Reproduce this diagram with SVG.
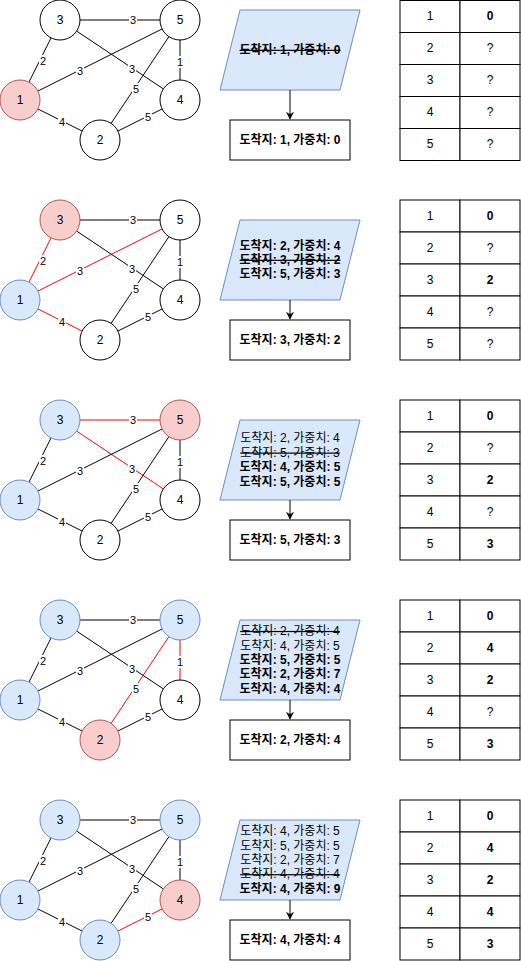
<svg xmlns="http://www.w3.org/2000/svg" width="521" height="961" viewBox="0 0 521 961">
<style>
text{font-family:"Liberation Sans","Noto Sans CJK KR",sans-serif;fill:#000;text-anchor:middle;dominant-baseline:central}
.nt{font-size:12px}
.lt{font-size:11px}
.tt{font-size:12px}
.pt{font-size:12px}
.b{font-weight:bold}
.s{text-decoration:line-through}
.n{fill:#fff;stroke:#000;stroke-width:1}
.red{fill:#f8cecc;stroke:#b85450;stroke-width:1}
.blue{fill:#dae8fc;stroke:#6c8ebf;stroke-width:1}
.e{stroke:#000;stroke-width:1;fill:none}
.er{stroke:#ff0000;stroke-width:1;fill:none}
.lb{fill:#fff}
.para{fill:#dae8fc;stroke:#6c8ebf;stroke-width:1}
.box{fill:#fff;stroke:#000;stroke-width:1}
.cell{fill:#fff;stroke:#000;stroke-width:1}
.arr{stroke:#000;stroke-width:1;fill:none}
</style>
<defs>
<marker id="ah" viewBox="0 0 10 10" refX="9" refY="5" markerWidth="8" markerHeight="8" markerUnits="userSpaceOnUse" orient="auto">
<path d="M0,0 L10,5 L0,10 L3,5 Z" fill="#000"/>
</marker>
</defs>

<!-- ============ PANEL 1 ============ -->
<g id="panel1">
<g id="p1-edges">
<line class="e" x1="60" y1="20" x2="180" y2="20"/>
<line class="e" x1="60" y1="20" x2="180" y2="100"/>
<line class="e" x1="20" y1="100" x2="60" y2="20"/>
<line class="e" x1="20" y1="100" x2="180" y2="20"/>
<line class="e" x1="180" y1="20" x2="180" y2="100"/>
<line class="e" x1="180" y1="20" x2="100" y2="140"/>
<line class="e" x1="20" y1="100" x2="100" y2="140"/>
<line class="e" x1="100" y1="140" x2="180" y2="100"/>
<rect class="lb" x="129" y="14" width="8" height="12"/><text class="lt" x="133" y="20">3</text>
<rect class="lb" x="128" y="63" width="8" height="12"/><text class="lt" x="132" y="69">3</text>
<rect class="lb" x="39" y="55" width="8" height="12"/><text class="lt" x="43" y="61">2</text>
<rect class="lb" x="76" y="65" width="8" height="12"/><text class="lt" x="80" y="71">3</text>
<rect class="lb" x="176" y="56" width="8" height="12"/><text class="lt" x="180" y="62">1</text>
<rect class="lb" x="132" y="83" width="8" height="12"/><text class="lt" x="136" y="89">5</text>
<rect class="lb" x="58" y="116" width="8" height="12"/><text class="lt" x="62" y="122">4</text>
<rect class="lb" x="144" y="111" width="8" height="12"/><text class="lt" x="148" y="117">5</text>
</g>
<g id="p1-n3"><circle class="n" cx="60" cy="20" r="20"/><text class="nt" x="60" y="20">3</text></g>
<g id="p1-n5"><circle class="n" cx="180" cy="20" r="20"/><text class="nt" x="180" y="20">5</text></g>
<g id="p1-n1"><circle class="red" cx="20" cy="100" r="20"/><text class="nt" x="20" y="100">1</text></g>
<g id="p1-n4"><circle class="n" cx="180" cy="100" r="20"/><text class="nt" x="180" y="100">4</text></g>
<g id="p1-n2"><circle class="n" cx="100" cy="140" r="20"/><text class="nt" x="100" y="140">2</text></g>
<g id="p1-queue"><polygon class="para" points="240,10 360,10 340,90 220,90"/>
<text class="pt b s" x="290" y="50">도착지: 1, 가중치: 0</text></g>
<g id="p1-arrow"><line class="arr" x1="290" y1="90" x2="290" y2="119" marker-end="url(#ah)"/></g>
<g id="p1-result"><rect class="box" x="230" y="120" width="120" height="40"/>
<text class="pt b" x="290" y="140">도착지: 1, 가중치: 0</text></g>
<g id="p1-table">
<rect class="cell" x="400" y="0.5" width="60" height="32"/><rect class="cell" x="460" y="0.5" width="60" height="32"/>
<rect class="cell" x="400" y="32.5" width="60" height="32"/><rect class="cell" x="460" y="32.5" width="60" height="32"/>
<rect class="cell" x="400" y="64.5" width="60" height="32"/><rect class="cell" x="460" y="64.5" width="60" height="32"/>
<rect class="cell" x="400" y="96.5" width="60" height="32"/><rect class="cell" x="460" y="96.5" width="60" height="32"/>
<rect class="cell" x="400" y="128.5" width="60" height="32"/><rect class="cell" x="460" y="128.5" width="60" height="32"/>
<text class="tt" x="430" y="16">1</text><text class="tt b" x="490" y="16">0</text>
<text class="tt" x="430" y="48">2</text><text class="tt" x="490" y="48">?</text>
<text class="tt" x="430" y="80">3</text><text class="tt" x="490" y="80">?</text>
<text class="tt" x="430" y="112">4</text><text class="tt" x="490" y="112">?</text>
<text class="tt" x="430" y="144">5</text><text class="tt" x="490" y="144">?</text>
</g>
</g>

<!-- ============ PANEL 2 ============ -->
<g id="panel2" transform="translate(0,200)">
<g id="p2-edges">
<line class="e" x1="60" y1="20" x2="180" y2="20"/>
<line class="e" x1="60" y1="20" x2="180" y2="100"/>
<line class="er" x1="20" y1="100" x2="60" y2="20"/>
<line class="er" x1="20" y1="100" x2="180" y2="20"/>
<line class="e" x1="180" y1="20" x2="180" y2="100"/>
<line class="e" x1="180" y1="20" x2="100" y2="140"/>
<line class="er" x1="20" y1="100" x2="100" y2="140"/>
<line class="e" x1="100" y1="140" x2="180" y2="100"/>
<rect class="lb" x="129" y="14" width="8" height="12"/><text class="lt" x="133" y="20">3</text>
<rect class="lb" x="128" y="63" width="8" height="12"/><text class="lt" x="132" y="69">3</text>
<rect class="lb" x="39" y="55" width="8" height="12"/><text class="lt" x="43" y="61">2</text>
<rect class="lb" x="76" y="65" width="8" height="12"/><text class="lt" x="80" y="71">3</text>
<rect class="lb" x="176" y="56" width="8" height="12"/><text class="lt" x="180" y="62">1</text>
<rect class="lb" x="132" y="83" width="8" height="12"/><text class="lt" x="136" y="89">5</text>
<rect class="lb" x="58" y="116" width="8" height="12"/><text class="lt" x="62" y="122">4</text>
<rect class="lb" x="144" y="111" width="8" height="12"/><text class="lt" x="148" y="117">5</text>
</g>
<g id="p2-n3"><circle class="red" cx="60" cy="20" r="20"/><text class="nt" x="60" y="20">3</text></g>
<g id="p2-n5"><circle class="n" cx="180" cy="20" r="20"/><text class="nt" x="180" y="20">5</text></g>
<g id="p2-n1"><circle class="blue" cx="20" cy="100" r="20"/><text class="nt" x="20" y="100">1</text></g>
<g id="p2-n4"><circle class="n" cx="180" cy="100" r="20"/><text class="nt" x="180" y="100">4</text></g>
<g id="p2-n2"><circle class="n" cx="100" cy="140" r="20"/><text class="nt" x="100" y="140">2</text></g>
<g id="p2-queue"><polygon class="para" points="240,20 360,20 340,100 220,100"/>
<text class="pt b" x="290" y="45.6">도착지: 2, 가중치: 4</text>
<text class="pt b s" x="290" y="60">도착지: 3, 가중치: 2</text>
<text class="pt b" x="290" y="74.4">도착지: 5, 가중치: 3</text></g>
<g id="p2-arrow"><line class="arr" x1="290" y1="100" x2="290" y2="119" marker-end="url(#ah)"/></g>
<g id="p2-result"><rect class="box" x="230" y="120" width="120" height="40"/>
<text class="pt b" x="290" y="140">도착지: 3, 가중치: 2</text></g>
<g id="p2-table">
<rect class="cell" x="400" y="0" width="60" height="32"/><rect class="cell" x="460" y="0" width="60" height="32"/>
<rect class="cell" x="400" y="32" width="60" height="32"/><rect class="cell" x="460" y="32" width="60" height="32"/>
<rect class="cell" x="400" y="64" width="60" height="32"/><rect class="cell" x="460" y="64" width="60" height="32"/>
<rect class="cell" x="400" y="96" width="60" height="32"/><rect class="cell" x="460" y="96" width="60" height="32"/>
<rect class="cell" x="400" y="128" width="60" height="32"/><rect class="cell" x="460" y="128" width="60" height="32"/>
<text class="tt" x="430" y="16">1</text><text class="tt b" x="490" y="16">0</text>
<text class="tt" x="430" y="48">2</text><text class="tt" x="490" y="48">?</text>
<text class="tt" x="430" y="80">3</text><text class="tt b" x="490" y="80">2</text>
<text class="tt" x="430" y="112">4</text><text class="tt" x="490" y="112">?</text>
<text class="tt" x="430" y="144">5</text><text class="tt" x="490" y="144">?</text>
</g>
</g>

<!-- ============ PANEL 3 ============ -->
<g id="panel3" transform="translate(0,400)">
<g id="p3-edges">
<line class="er" x1="60" y1="20" x2="180" y2="20"/>
<line class="er" x1="60" y1="20" x2="180" y2="100"/>
<line class="e" x1="20" y1="100" x2="60" y2="20"/>
<line class="e" x1="20" y1="100" x2="180" y2="20"/>
<line class="e" x1="180" y1="20" x2="180" y2="100"/>
<line class="e" x1="180" y1="20" x2="100" y2="140"/>
<line class="e" x1="20" y1="100" x2="100" y2="140"/>
<line class="e" x1="100" y1="140" x2="180" y2="100"/>
<rect class="lb" x="129" y="14" width="8" height="12"/><text class="lt" x="133" y="20">3</text>
<rect class="lb" x="128" y="63" width="8" height="12"/><text class="lt" x="132" y="69">3</text>
<rect class="lb" x="39" y="55" width="8" height="12"/><text class="lt" x="43" y="61">2</text>
<rect class="lb" x="76" y="65" width="8" height="12"/><text class="lt" x="80" y="71">3</text>
<rect class="lb" x="176" y="56" width="8" height="12"/><text class="lt" x="180" y="62">1</text>
<rect class="lb" x="132" y="83" width="8" height="12"/><text class="lt" x="136" y="89">5</text>
<rect class="lb" x="58" y="116" width="8" height="12"/><text class="lt" x="62" y="122">4</text>
<rect class="lb" x="144" y="111" width="8" height="12"/><text class="lt" x="148" y="117">5</text>
</g>
<g id="p3-n3"><circle class="blue" cx="60" cy="20" r="20"/><text class="nt" x="60" y="20">3</text></g>
<g id="p3-n5"><circle class="red" cx="180" cy="20" r="20"/><text class="nt" x="180" y="20">5</text></g>
<g id="p3-n1"><circle class="blue" cx="20" cy="100" r="20"/><text class="nt" x="20" y="100">1</text></g>
<g id="p3-n4"><circle class="n" cx="180" cy="100" r="20"/><text class="nt" x="180" y="100">4</text></g>
<g id="p3-n2"><circle class="n" cx="100" cy="140" r="20"/><text class="nt" x="100" y="140">2</text></g>
<g id="p3-queue"><polygon class="para" points="240,20 360,20 340,100 220,100"/>
<text class="pt" x="290" y="38.4">도착지: 2, 가중치: 4</text>
<text class="pt s" x="290" y="52.8">도착지: 5, 가중치: 3</text>
<text class="pt b" x="290" y="67.2">도착지: 4, 가중치: 5</text>
<text class="pt b" x="290" y="81.6">도착지: 5, 가중치: 5</text></g>
<g id="p3-arrow"><line class="arr" x1="290" y1="100" x2="290" y2="119" marker-end="url(#ah)"/></g>
<g id="p3-result"><rect class="box" x="230" y="120" width="120" height="40"/>
<text class="pt b" x="290" y="140">도착지: 5, 가중치: 3</text></g>
<g id="p3-table">
<rect class="cell" x="400" y="0" width="60" height="32"/><rect class="cell" x="460" y="0" width="60" height="32"/>
<rect class="cell" x="400" y="32" width="60" height="32"/><rect class="cell" x="460" y="32" width="60" height="32"/>
<rect class="cell" x="400" y="64" width="60" height="32"/><rect class="cell" x="460" y="64" width="60" height="32"/>
<rect class="cell" x="400" y="96" width="60" height="32"/><rect class="cell" x="460" y="96" width="60" height="32"/>
<rect class="cell" x="400" y="128" width="60" height="32"/><rect class="cell" x="460" y="128" width="60" height="32"/>
<text class="tt" x="430" y="16">1</text><text class="tt b" x="490" y="16">0</text>
<text class="tt" x="430" y="48">2</text><text class="tt" x="490" y="48">?</text>
<text class="tt" x="430" y="80">3</text><text class="tt b" x="490" y="80">2</text>
<text class="tt" x="430" y="112">4</text><text class="tt" x="490" y="112">?</text>
<text class="tt" x="430" y="144">5</text><text class="tt b" x="490" y="144">3</text>
</g>
</g>

<!-- ============ PANEL 4 ============ -->
<g id="panel4" transform="translate(0,600)">
<g id="p4-edges">
<line class="e" x1="60" y1="20" x2="180" y2="20"/>
<line class="e" x1="60" y1="20" x2="180" y2="100"/>
<line class="e" x1="20" y1="100" x2="60" y2="20"/>
<line class="e" x1="20" y1="100" x2="180" y2="20"/>
<line class="er" x1="180" y1="20" x2="180" y2="100"/>
<line class="er" x1="180" y1="20" x2="100" y2="140"/>
<line class="e" x1="20" y1="100" x2="100" y2="140"/>
<line class="e" x1="100" y1="140" x2="180" y2="100"/>
<rect class="lb" x="129" y="14" width="8" height="12"/><text class="lt" x="133" y="20">3</text>
<rect class="lb" x="128" y="63" width="8" height="12"/><text class="lt" x="132" y="69">3</text>
<rect class="lb" x="39" y="55" width="8" height="12"/><text class="lt" x="43" y="61">2</text>
<rect class="lb" x="76" y="65" width="8" height="12"/><text class="lt" x="80" y="71">3</text>
<rect class="lb" x="176" y="56" width="8" height="12"/><text class="lt" x="180" y="62">1</text>
<rect class="lb" x="132" y="83" width="8" height="12"/><text class="lt" x="136" y="89">5</text>
<rect class="lb" x="58" y="116" width="8" height="12"/><text class="lt" x="62" y="122">4</text>
<rect class="lb" x="144" y="111" width="8" height="12"/><text class="lt" x="148" y="117">5</text>
</g>
<g id="p4-n3"><circle class="blue" cx="60" cy="20" r="20"/><text class="nt" x="60" y="20">3</text></g>
<g id="p4-n5"><circle class="blue" cx="180" cy="20" r="20"/><text class="nt" x="180" y="20">5</text></g>
<g id="p4-n1"><circle class="blue" cx="20" cy="100" r="20"/><text class="nt" x="20" y="100">1</text></g>
<g id="p4-n4"><circle class="n" cx="180" cy="100" r="20"/><text class="nt" x="180" y="100">4</text></g>
<g id="p4-n2"><circle class="red" cx="100" cy="140" r="20"/><text class="nt" x="100" y="140">2</text></g>
<g id="p4-queue"><polygon class="para" points="240,20 360,20 340,100 220,100"/>
<text class="pt s" x="290" y="31.2">도착지: 2, 가중치: 4</text>
<text class="pt" x="290" y="45.6">도착지: 4, 가중치: 5</text>
<text class="pt b" x="290" y="60">도착지: 5, 가중치: 5</text>
<text class="pt b" x="290" y="74.4">도착지: 2, 가중치: 7</text>
<text class="pt b" x="290" y="88.8">도착지: 4, 가중치: 4</text></g>
<g id="p4-arrow"><line class="arr" x1="290" y1="100" x2="290" y2="119" marker-end="url(#ah)"/></g>
<g id="p4-result"><rect class="box" x="230" y="120" width="120" height="40"/>
<text class="pt b" x="290" y="140">도착지: 2, 가중치: 4</text></g>
<g id="p4-table">
<rect class="cell" x="400" y="0" width="60" height="32"/><rect class="cell" x="460" y="0" width="60" height="32"/>
<rect class="cell" x="400" y="32" width="60" height="32"/><rect class="cell" x="460" y="32" width="60" height="32"/>
<rect class="cell" x="400" y="64" width="60" height="32"/><rect class="cell" x="460" y="64" width="60" height="32"/>
<rect class="cell" x="400" y="96" width="60" height="32"/><rect class="cell" x="460" y="96" width="60" height="32"/>
<rect class="cell" x="400" y="128" width="60" height="32"/><rect class="cell" x="460" y="128" width="60" height="32"/>
<text class="tt" x="430" y="16">1</text><text class="tt b" x="490" y="16">0</text>
<text class="tt" x="430" y="48">2</text><text class="tt b" x="490" y="48">4</text>
<text class="tt" x="430" y="80">3</text><text class="tt b" x="490" y="80">2</text>
<text class="tt" x="430" y="112">4</text><text class="tt" x="490" y="112">?</text>
<text class="tt" x="430" y="144">5</text><text class="tt b" x="490" y="144">3</text>
</g>
</g>

<!-- ============ PANEL 5 ============ -->
<g id="panel5" transform="translate(0,800)">
<g id="p5-edges">
<line class="e" x1="60" y1="20" x2="180" y2="20"/>
<line class="e" x1="60" y1="20" x2="180" y2="100"/>
<line class="e" x1="20" y1="100" x2="60" y2="20"/>
<line class="e" x1="20" y1="100" x2="180" y2="20"/>
<line class="e" x1="180" y1="20" x2="180" y2="100"/>
<line class="e" x1="180" y1="20" x2="100" y2="140"/>
<line class="e" x1="20" y1="100" x2="100" y2="140"/>
<line class="er" x1="100" y1="140" x2="180" y2="100"/>
<rect class="lb" x="129" y="14" width="8" height="12"/><text class="lt" x="133" y="20">3</text>
<rect class="lb" x="128" y="63" width="8" height="12"/><text class="lt" x="132" y="69">3</text>
<rect class="lb" x="39" y="55" width="8" height="12"/><text class="lt" x="43" y="61">2</text>
<rect class="lb" x="76" y="65" width="8" height="12"/><text class="lt" x="80" y="71">3</text>
<rect class="lb" x="176" y="56" width="8" height="12"/><text class="lt" x="180" y="62">1</text>
<rect class="lb" x="132" y="83" width="8" height="12"/><text class="lt" x="136" y="89">5</text>
<rect class="lb" x="58" y="116" width="8" height="12"/><text class="lt" x="62" y="122">4</text>
<rect class="lb" x="144" y="111" width="8" height="12"/><text class="lt" x="148" y="117">5</text>
</g>
<g id="p5-n3"><circle class="blue" cx="60" cy="20" r="20"/><text class="nt" x="60" y="20">3</text></g>
<g id="p5-n5"><circle class="blue" cx="180" cy="20" r="20"/><text class="nt" x="180" y="20">5</text></g>
<g id="p5-n1"><circle class="blue" cx="20" cy="100" r="20"/><text class="nt" x="20" y="100">1</text></g>
<g id="p5-n4"><circle class="red" cx="180" cy="100" r="20"/><text class="nt" x="180" y="100">4</text></g>
<g id="p5-n2"><circle class="blue" cx="100" cy="140" r="20"/><text class="nt" x="100" y="140">2</text></g>
<g id="p5-queue"><polygon class="para" points="240,20 360,20 340,100 220,100"/>
<text class="pt" x="290" y="31.2">도착지: 4, 가중치: 5</text>
<text class="pt" x="290" y="45.6">도착지: 5, 가중치: 5</text>
<text class="pt" x="290" y="60">도착지: 2, 가중치: 7</text>
<text class="pt s" x="290" y="74.4">도착지: 4, 가중치: 4</text>
<text class="pt b" x="290" y="88.8">도착지: 4, 가중치: 9</text></g>
<g id="p5-arrow"><line class="arr" x1="290" y1="100" x2="290" y2="119" marker-end="url(#ah)"/></g>
<g id="p5-result"><rect class="box" x="230" y="120" width="120" height="40"/>
<text class="pt b" x="290" y="140">도착지: 4, 가중치: 4</text></g>
<g id="p5-table">
<rect class="cell" x="400" y="0" width="60" height="32"/><rect class="cell" x="460" y="0" width="60" height="32"/>
<rect class="cell" x="400" y="32" width="60" height="32"/><rect class="cell" x="460" y="32" width="60" height="32"/>
<rect class="cell" x="400" y="64" width="60" height="32"/><rect class="cell" x="460" y="64" width="60" height="32"/>
<rect class="cell" x="400" y="96" width="60" height="32"/><rect class="cell" x="460" y="96" width="60" height="32"/>
<rect class="cell" x="400" y="128" width="60" height="32"/><rect class="cell" x="460" y="128" width="60" height="32"/>
<text class="tt" x="430" y="16">1</text><text class="tt b" x="490" y="16">0</text>
<text class="tt" x="430" y="48">2</text><text class="tt b" x="490" y="48">4</text>
<text class="tt" x="430" y="80">3</text><text class="tt b" x="490" y="80">2</text>
<text class="tt" x="430" y="112">4</text><text class="tt b" x="490" y="112">4</text>
<text class="tt" x="430" y="144">5</text><text class="tt b" x="490" y="144">3</text>
</g>
</g>
</svg>
